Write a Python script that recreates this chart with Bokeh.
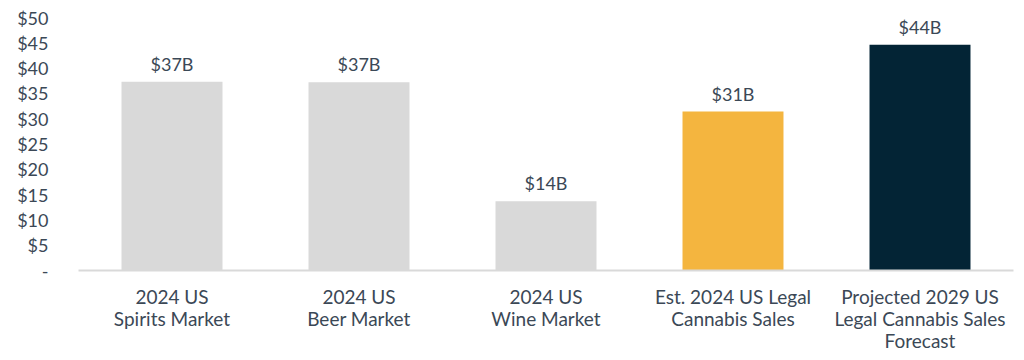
from bokeh.plotting import figure
from bokeh.models import ColumnDataSource, FactorRange, Range1d, NumeralTickFormatter, FixedTicker
from bokeh.core.properties import value
from bokeh.embed import file_html
from bokeh.resources import INLINE

categories = [
    "2024 US\nSpirits Market",
    "2024 US\nBeer Market",
    "2024 US\nWine Market",
    "Est. 2024 US Legal\nCannabis Sales",
    "Projected 2029 US\nLegal Cannabis Sales\nForecast",
]
values = [37.3, 37.2, 13.7, 31.4, 44.6]
value_labels = ["$37B", "$37B", "$14B", "$31B", "$44B"]
bar_colors = ["#d9d9d9", "#d9d9d9", "#d9d9d9", "#f4b53f", "#032435"]
y_ticks = [0, 5, 10, 15, 20, 25, 30, 35, 40, 45, 50]

FONT = "Lato"
TEXT_COLOR = "#3b4856"

src = ColumnDataSource(dict(cat=categories, val=values, lab=value_labels, col=bar_colors))

p = figure(
    x_range=FactorRange(*categories),
    y_range=Range1d(0, 50),
    frame_width=935, frame_height=253,
    min_border_left=78, min_border_right=3, min_border_top=17, min_border_bottom=80,
    output_backend="svg", toolbar_location=None,
)
p.outline_line_color = None
p.xgrid.grid_line_color = None
p.ygrid.grid_line_color = None
p.background_fill_color = "white"
p.border_fill_color = "white"

p.vbar(x="cat", top="val", width=0.54, color="col", line_color=None, source=src)
p.text(x="cat", y="val", text="lab", source=src, text_align="center", text_baseline="bottom",
       y_offset=-7, text_font=value(FONT), text_font_size="18px", text_color=TEXT_COLOR)

ya = p.yaxis[0]
ya.ticker = FixedTicker(ticks=y_ticks)
ya.formatter = NumeralTickFormatter(format="$0")
ya.major_label_overrides = {0: "-"}
ya.axis_line_color = None
ya.major_tick_line_color = None
ya.minor_tick_line_color = None
ya.major_label_standoff = 24
ya.major_label_text_font = FONT
ya.major_label_text_font_size = "18px"
ya.major_label_text_color = TEXT_COLOR

xa = p.xaxis[0]
xa.axis_line_color = "#d9d9d9"
xa.axis_line_width = 2
xa.major_tick_line_color = None
xa.minor_tick_line_color = None
xa.major_label_standoff = 8
xa.major_label_text_font = FONT
xa.major_label_text_font_size = "19px"
xa.major_label_text_color = TEXT_COLOR
xa.major_label_text_line_height = 0.96

open("out.html", "w").write(file_html(p, INLINE))
